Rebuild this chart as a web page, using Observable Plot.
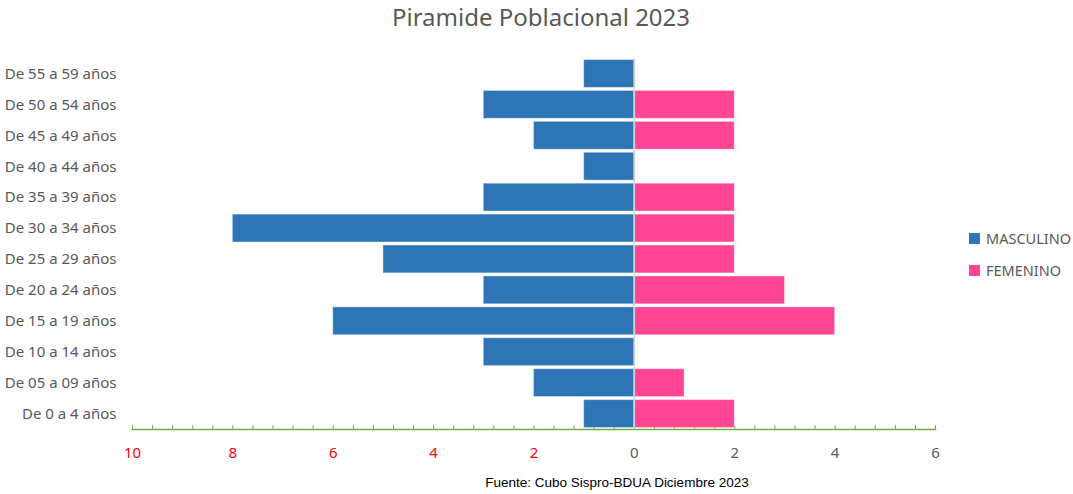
<!DOCTYPE html>
<html><head><meta charset="utf-8">
<script src="https://cdn.jsdelivr.net/npm/d3@7"></script>
<script src="https://cdn.jsdelivr.net/npm/@observablehq/plot@0.6"></script>
<style>
body{margin:0;background:#fff;}
#wrap{position:relative;width:1073px;height:494px;overflow:hidden;font-family:"Noto Sans",sans-serif;color:#595959;}
#wrap svg{position:absolute;left:0;top:0;}
#wrap svg g[aria-label="y-axis tick label"] text{font-size:15px;}
#wrap svg g[aria-label="x-axis tick label"] text{font-size:15px;}
.title{position:absolute;left:0;width:1082px;top:0px;text-align:center;font-size:24px;line-height:34px;}
.caption{position:absolute;left:0;width:1234px;top:474px;text-align:center;font-size:13.5px;line-height:18px;color:#000;font-family:"Liberation Sans Narrow","Arial Narrow","Liberation Sans",sans-serif;}
.legend{position:absolute;left:969px;top:229px;font-size:14.5px;}
.legend div{display:flex;align-items:center;height:18px;margin-bottom:14px;}
.legend span.sw{display:inline-block;width:11px;height:11px;margin-right:6px;}
</style></head>
<body><div id="wrap"></div>
<script>
const categories = ["De 0 a 4 años","De 05 a 09 años","De 10 a 14 años","De 15 a 19 años","De 20 a 24 años","De 25 a 29 años","De 30 a 34 años","De 35 a 39 años","De 40 a 44 años","De 45 a 49 años","De 50 a 54 años","De 55 a 59 años"];
const masculino = [1,2,3,6,3,5,8,3,1,2,3,1];
const femenino  = [2,1,0,4,3,2,2,2,0,2,2,0];
const series = ["MASCULINO","FEMENINO"];
const colors = ["#2E75B6","#FF4593"];
const leftTicks = [-10,-8,-6,-4,-2];
const rightTicks = [0,2,4,6];
const titleText = "Piramide Poblacional 2023";
const captionText = "Fuente: Cubo Sispro-BDUA Diciembre 2023";

const rows = [];
categories.forEach((c,i)=>{
  rows.push({age:c, sexo:"MASCULINO", v:-masculino[i]});
  rows.push({age:c, sexo:"FEMENINO", v:femenino[i]});
});
const W=1073,H=494,mt=58,mb=65,ml=132,mr=138;
const minorTicks = d3.range(0,41).map(i=>-10+i*0.4);
const green="#70AD47";
const chart = Plot.plot({
  width:W,height:H,marginTop:mt,marginBottom:mb,marginLeft:ml,marginRight:mr,
  style:{fontFamily:"Noto Sans",color:"#595959",background:"transparent"},
  x:{domain:[-10,6],label:null},
  y:{domain:categories.slice().reverse(),paddingInner:0.1,paddingOuter:0.05,round:false,label:null},
  color:{domain:series,range:colors},
  marks:[
    Plot.ruleX(minorTicks,{stroke:green,strokeWidth:1,insetTop:(H-mt-mb)-4}),
    Plot.barX(rows,{x:"v",y:"age",fill:"sexo",stroke:"white",strokeOpacity:0.35,strokeWidth:1}),
    Plot.ruleX([0],{stroke:"#d4d4d4",strokeWidth:1.5}),
    Plot.frame({anchor:"bottom",stroke:green,strokeWidth:1.5}),
    Plot.axisX(leftTicks,{tickSize:0,tickPadding:18,tickFormat:d=>Math.abs(d),color:"#FF0000",fontSize:15,label:null}),
    Plot.axisX(rightTicks,{tickSize:0,tickPadding:18,tickFormat:d=>Math.abs(d),color:"#595959",fontSize:15,label:null}),
    Plot.axisY({tickSize:0,tickPadding:16,fontSize:15,color:"#595959",label:null})
  ]
});
const wrap=document.getElementById("wrap");
wrap.appendChild(chart);
const t=document.createElement("div");t.className="title";t.textContent=titleText;wrap.appendChild(t);
const cap=document.createElement("div");cap.className="caption";cap.textContent=captionText;wrap.appendChild(cap);
const lg=document.createElement("div");lg.className="legend";
series.forEach((s,i)=>{const d=document.createElement("div");d.innerHTML=`<span class="sw" style="background:${colors[i]}"></span>${s}`;lg.appendChild(d);});
wrap.appendChild(lg);
</script></body></html>
